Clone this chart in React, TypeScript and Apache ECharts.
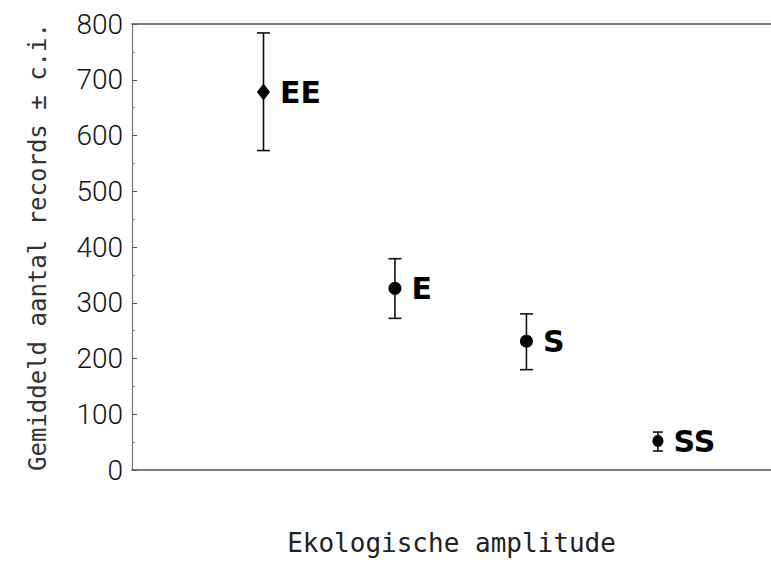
import React, { useEffect, useRef } from "react";
import * as echarts from "echarts";

const categories = ["EE", "E", "S", "SS"];
const positions = [1, 2, 3, 4];
const means = [678, 326, 231, 52];
const lower = [573, 272, 180, 34];
const upper = [784, 379, 280, 68];
const yTicks = [0, 100, 200, 300, 400, 500, 600, 700, 800];

export default function App() {
  const ref = useRef<HTMLDivElement>(null);
  useEffect(() => {
    if (!ref.current) return;
    const chart = echarts.init(ref.current, null, { renderer: "svg" });
    const mono = "DejaVu Sans Mono";
    const scatterData = positions.map((p, i) => ({
      value: [p, means[i]],
      name: categories[i],
      symbol: i === 0 ? "diamond" : "circle",
      symbolSize: i === 0 ? [13, 17] : i === 3 ? [11, 12] : 13,
    }));
    const errData = positions.map((p, i) => [p, lower[i], upper[i], i === 3 ? 10 : 13]);
    chart.setOption({
      animation: false,
      backgroundColor: "#ffffff",
      grid: { left: 132, right: 0, top: 24, bottom: 92, outerBoundsMode: "none", containLabel: false },
      xAxis: [
        {
          type: "value",
          min: 0,
          max: 4.86,
          position: "bottom",
          name: "Ekologische amplitude",
          nameLocation: "middle",
          nameGap: 60,
          nameTextStyle: { fontFamily: mono, fontSize: 26, color: "#222" },
          axisLine: { show: true, lineStyle: { color: "#555", width: 1.5 } },
          axisTick: { show: false },
          axisLabel: { show: false },
          splitLine: { show: false },
        },
        {
          type: "value",
          min: 0,
          max: 4.86,
          position: "top",
          axisLine: { show: true, lineStyle: { color: "#555", width: 1.5 } },
          axisTick: { show: false },
          axisLabel: { show: false },
          splitLine: { show: false },
        },
      ],
      yAxis: {
        type: "value",
        min: yTicks[0],
        max: yTicks[yTicks.length - 1],
        interval: 100,
        name: "Gemiddeld aantal records ± c.i.",
        nameLocation: "middle",
        nameGap: 82,
        nameRotate: 90,
        nameTextStyle: { fontFamily: mono, fontSize: 24, color: "#333" },
        axisLine: { show: true, lineStyle: { color: "#777", width: 1.2 } },
        axisTick: { show: true, inside: true, length: 5, lineStyle: { color: "#555" } },
        minorTick: { show: true, splitNumber: 2, length: 3, lineStyle: { color: "#888" } },
        axisLabel: {
          margin: 9,
          fontFamily: "Roboto",
          fontWeight: 300,
          fontSize: 28,
          color: "#111",
          formatter: (v: number) => (yTicks.includes(v) ? String(v) : ""),
        },
        splitLine: { show: false },
      },
      series: [
        {
          type: "custom",
          renderItem: (params: any, api: any) => {
            const x = api.value(0);
            const lo = api.coord([x, api.value(1)]);
            const hi = api.coord([x, api.value(2)]);
            const w = api.value(3) / 2;
            const style = { stroke: "#111", lineWidth: 1.6 };
            return {
              type: "group",
              children: [
                { type: "line", shape: { x1: lo[0], y1: lo[1], x2: hi[0], y2: hi[1] }, style },
                { type: "line", shape: { x1: lo[0] - w, y1: lo[1], x2: lo[0] + w, y2: lo[1] }, style },
                { type: "line", shape: { x1: hi[0] - w, y1: hi[1], x2: hi[0] + w, y2: hi[1] }, style },
              ],
            };
          },
          data: errData,
          z: 1,
        },
        {
          type: "scatter",
          data: scatterData,
          itemStyle: { color: "#000", opacity: 1 },
          label: {
            show: true,
            position: "right",
            distance: 10,
            formatter: (p: any) => p.name,
            fontFamily: "DejaVu Sans",
            fontWeight: "bold",
            fontSize: 30,
            color: "#000",
          },
          z: 2,
        },
      ],
    });
    return () => chart.dispose();
  }, []);
  return (
    <div
      ref={ref}
      style={{ position: "fixed", left: 0, top: 0, width: 771, height: 562, background: "#fff" }}
    />
  );
}
